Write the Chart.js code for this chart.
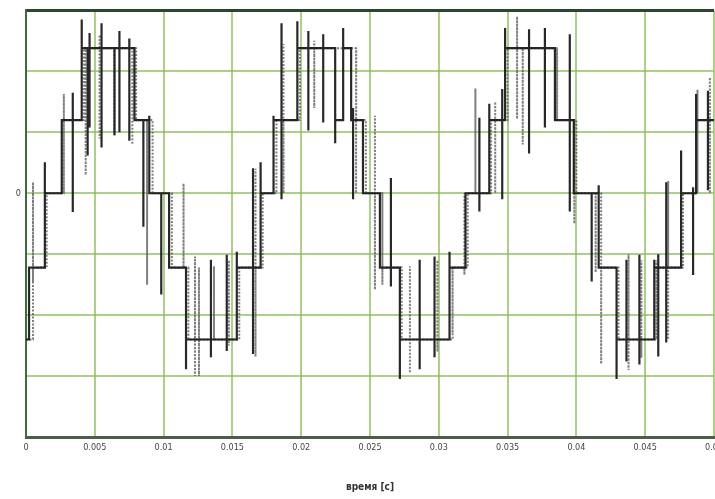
<!DOCTYPE html>
<html>
<head>
<meta charset="utf-8">
<script src="https://cdn.jsdelivr.net/npm/chart.js@4"></script>
<style>
  html, body { margin: 0; padding: 0; background: #fff; overflow: hidden; }
  #wrap { width: 715px; height: 499px; overflow: hidden; }
</style>
</head>
<body>
<div id="wrap"><canvas id="mycanvas" width="728" height="499"></canvas></div>
<script>
// time in ms, levels in grid units (only the 0 line is labelled)
var xTicks = [0, 0.005, 0.01, 0.015, 0.02, 0.025, 0.03, 0.035, 0.04, 0.045, 0.05];
var xTitle = "время [с]";

// dark trace: step changes
var darkStepMs = [0, 0.22, 1.37, 2.60, 4.05, 7.88, 8.96, 10.40, 11.63, 15.32, 17.05, 17.99, 19.72, 22.47, 23.05, 23.63, 24.49, 25.72, 27.17, 30.78, 31.94, 33.67, 34.82, 38.44, 39.81, 41.62, 42.92, 45.66, 47.61, 48.70];
var darkStepV  = [-2.4, -1.22, 0, 1.2, 2.38, 1.2, 0, -1.22, -2.4, -1.22, 0, 1.2, 2.38, 1.2, 2.38, 1.2, 0, -1.22, -2.4, -1.22, 0, 1.2, 2.38, 1.2, 0, -1.22, -2.4, -1.22, 0, 1.2];
// dark trace: switching spikes
var darkSpikeMs = [1.37, 3.40, 4.05, 4.48, 4.62, 5.49, 6.43, 6.79, 7.51, 8.53, 8.96, 9.83, 11.63, 13.44, 14.59, 15.32, 16.50, 17.05, 17.99, 18.57, 19.72, 20.52, 21.60, 22.47, 23.05, 23.77, 26.52, 27.17, 28.61, 29.69, 30.78, 32.95, 33.67, 34.61, 34.82, 36.56, 37.71, 39.52, 41.11, 41.62, 42.92, 43.64, 44.58, 45.66, 45.95, 46.53, 47.61, 48.48, 48.70, 49.56];
var darkSpikeHi = [0.51, 1.65, 2.85, 2.38, 2.63, 2.79, 2.38, 2.66, 2.54, 1.2, 1.27, 0, -1.22, -1.09, -1.01, -0.96, 0.41, 0.51, 1.27, 2.79, 2.82, 2.66, 2.61, 2.38, 2.71, 1.40, 0.25, -1.22, -1.09, -1.04, -0.96, 1.24, 1.47, 1.71, 2.71, 2.69, 2.71, 2.61, 0, 0.13, -1.22, -1.09, -1.01, -1.09, -1.0, 0.18, 0.70, 0.1, 1.63, 1.68];
var darkSpikeLo = [-1.22, -0.31, 2.38, 0.62, 1.08, 0.75, 0.95, 1.0, 0.86, -0.55, 0, -1.66, -2.89, -2.69, -2.59, -2.4, -2.64, -1.22, 0, -0.1, 1.2, 1.03, 1.16, 0.82, 1.2, -0.1, -1.53, -3.05, -2.89, -2.69, -2.4, -0.3, 0, -0.1, 1.2, 0.65, 1.08, -0.3, -1.45, 0, -3.05, -2.76, -2.81, -2.4, -2.68, -2.45, -1.22, -1.34, 0, 0.05];

// grey (dotted) trace: step changes
var greyStepMs = [0, 0.51, 1.5, 2.75, 4.2, 8.0, 9.2, 10.6, 11.8, 15.5, 17.2, 18.2, 19.9, 24.0, 24.7, 25.9, 27.3, 31.0, 32.1, 33.8, 35.0, 38.6, 40.0, 41.8, 43.06, 45.81, 47.75, 48.8];
var greyStepV  = [-2.4, -1.22, 0, 1.2, 2.38, 1.2, 0, -1.22, -2.4, -1.22, 0, 1.2, 2.38, 1.2, 0, -1.22, -2.4, -1.22, 0, 1.2, 2.38, 1.2, 0, -1.22, -2.4, -1.22, 0, 1.2];
// grey trace: spikes
var greySpikeMs = [0.51, 2.75, 4.34, 5.35, 6.43, 7.73, 8.8, 11.45, 12.28, 12.57, 13.66, 14.74, 16.68, 18.71, 20.95, 23.99, 25.36, 25.9, 27.9, 29.9, 31.0, 31.86, 32.66, 34.1, 35.69, 36.1, 38.58, 39.85, 41.4, 41.8, 43.79, 44.72, 45.81, 46.67, 48.8, 49.7];
var greySpikeHi = [0.18, 1.63, 2.38, 2.6, 2.38, 2.38, 1.2, 0.16, -1.04, -1.22, -1.2, -1.1, 0.4, 2.45, 2.5, 2.3, 1.27, 0, -1.2, -1.1, -1.2, 0, 1.72, 1.5, 2.9, 2.38, 2.38, 1.2, 0, -1.22, -1.0, -1.1, -1.1, 0.2, 1.7, 1.9];
var greySpikeLo = [-1.47, 0, 0.3, 0.9, 0.95, 0.8, -1.5, -1.22, -3.0, -3.0, -2.4, -2.5, -2.68, 0, 1.4, 0, -1.58, -1.5, -2.95, -2.6, -2.3, -1.34, 0, 0, 1.22, 0.8, 1.2, -0.5, -1.3, -2.8, -2.9, -2.7, -2.4, -2.4, 0, 0];

var endMs = 50;

function buildTrace(stepMs, stepV, spikeMs, spikeHi, spikeLo) {
	var ev = [];
	for (var i in stepMs) ev.push({t: stepMs[i], k: 0, v: stepV[i]});
	for (var j in spikeMs) ev.push({t: spikeMs[j], k: 1, hi: spikeHi[j], lo: spikeLo[j]});
	ev.sort(function(a, b){ return a.t - b.t || a.k - b.k; });
	var pts = [];
	var cur = stepV[0];
	for (var n = 0; n < ev.length; n++) {
		var e = ev[n];
		var x = e.t / 1000;
		if (e.k === 0) {
			pts.push({x: x, y: cur});
			cur = e.v;
			pts.push({x: x, y: cur});
		} else {
			pts.push({x: x, y: cur});
			pts.push({x: x, y: e.hi});
			pts.push({x: x, y: e.lo});
			pts.push({x: x, y: cur});
		}
	}
	pts.push({x: endMs / 1000, y: cur});
	return pts;
}

var gridGreen = "rgba(135,188,85,0.7)";
var tickFont = {family: "'Liberation Sans Narrow', 'DejaVu Sans Condensed', sans-serif", size: 9};

var chartdata = {
	datasets: [
		{
			label: "dark",
			data: buildTrace(darkStepMs, darkStepV, darkSpikeMs, darkSpikeHi, darkSpikeLo),
			borderColor: "rgba(28,28,28,0.95)",
			borderWidth: 2.2,
			pointRadius: 0,
			tension: 0,
			fill: false
		},
		{
			label: "grey",
			data: buildTrace(greyStepMs, greyStepV, greySpikeMs, greySpikeHi, greySpikeLo),
			borderColor: "rgba(95,95,95,0.8)",
			borderWidth: 2,
			borderDash: [2, 1.5],
			pointRadius: 0,
			tension: 0,
			fill: false
		}
	]
};

var ctx = document.getElementById("mycanvas");

var LineGraph = new Chart(ctx, {
	type: 'line',
	data: chartdata,
	options: {
		responsive: false,
		animation: false,
		devicePixelRatio: 1,
		layout: {padding: {top: 9, right: 10, bottom: 0, left: 0}},
		plugins: {legend: {display: false}, tooltip: {enabled: false}},
		scales: {
			x: {
				type: 'linear',
				min: 0,
				max: 0.05,
				afterBuildTicks: function(scale){
					scale.ticks = xTicks.map(function(v){ return {value: v}; });
				},
				afterFit: function(scale){ scale.height = 62; },
				ticks: {
					color: "#444",
					font: tickFont,
					padding: 5,
					maxRotation: 0,
					autoSkip: false,
					callback: function(v){ return String(Number(v.toFixed(3))); }
				},
				grid: {color: gridGreen, lineWidth: 2, drawTicks: false},
				border: {color: "#4d5d4a", width: 3},
				title: {
					display: true,
					text: xTitle,
					color: "#333",
					font: {family: "'DejaVu Sans Condensed', sans-serif", size: 10, weight: 'bold'},
					padding: {top: 0, bottom: 6}
				}
			},
			y: {
				min: -4,
				max: 3,
				afterFit: function(scale){ scale.width = 26; },
				ticks: {
					stepSize: 1,
					color: "#444",
					font: tickFont,
					padding: 5,
					callback: function(v){ return v === 0 ? '0' : ''; }
				},
				grid: {
					color: function(c){ return c.tick && c.tick.value === 3 ? "#2c4430" : gridGreen; },
					lineWidth: function(c){ return c.tick && c.tick.value === 3 ? 3 : 2; },
					drawTicks: false
				},
				border: {color: "#3f6a3f", width: 2}
			}
		}
	}
});
</script>
</body>
</html>
